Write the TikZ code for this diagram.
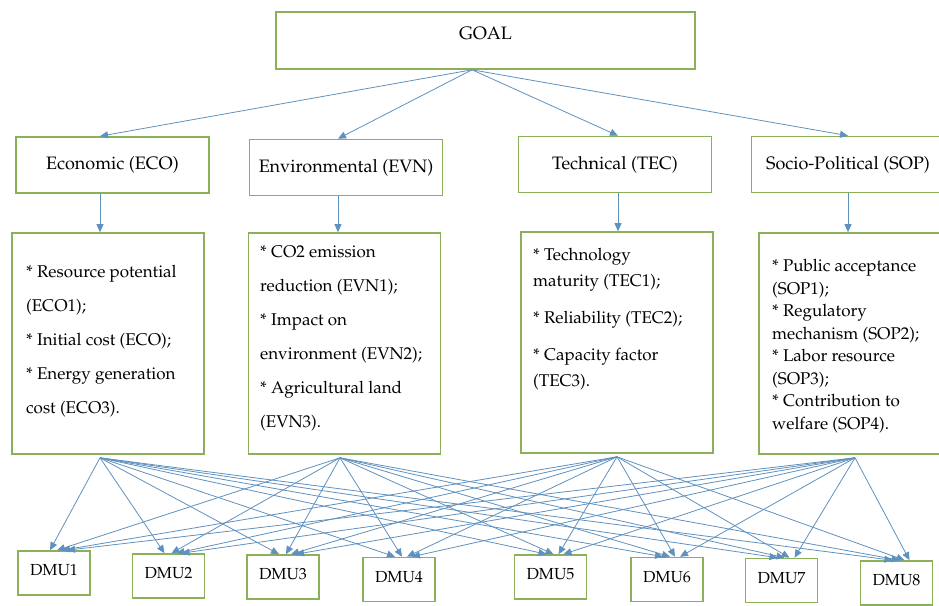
\documentclass[tikz,border=0pt]{standalone}
\usepackage[T1]{fontenc}
\usepackage{mathpazo}
\usepackage{tikz}
\usetikzlibrary{arrows.meta}

\definecolor{boxgreen}{RGB}{140,176,90}
\definecolor{arrowblue}{RGB}{95,145,190}

\tikzset{
  box/.style={draw=boxgreen, line width=1.6pt, fill=white, inner sep=0pt,
    font=\fontsize{18}{21}\selectfont},
  critbox/.style={box, minimum width=193pt, minimum height=56pt},
  subbox/.style={box, minimum width=192pt, minimum height=221pt},
  dmubox/.style={box, minimum width=72pt, minimum height=44pt, text depth=6pt,
    font=\fontsize{16}{19}\selectfont},
  subtext/.style={anchor=north west, align=left, inner sep=0pt},
  link/.style={draw=arrowblue, line width=0.8pt, -{Triangle[length=8pt,width=7pt]}}
}

\begin{document}
\begin{tikzpicture}[x=1pt, y=-1pt]
\useasboundingbox (0,0) rectangle (939,605);

% goal
\node[box, minimum width=419pt, minimum height=57pt, text depth=14pt] (goal) at (485.5,40.5) {GOAL};

% criteria
\node[critbox] (eco) at (112.5,165) {Economic (ECO)};
\node[critbox] (evn) at (346,167.5) {Environmental (EVN)};
\node[critbox] (tec) at (615,164.5) {Technical (TEC)};
\node[critbox] (sop) at (848,164.5) {Socio-Political (SOP)};

% sub-criteria boxes
\node[subbox] (ecosub) at (108,343.5) {};
\node[subbox] (evnsub) at (344.5,343.5) {};
\node[subbox] (tecsub) at (617,342.5) {};
\node[subbox] (sopsub) at (855,343.5) {};

\node[subtext, font=\fontsize{17}{34}\selectfont] (ecotext) at (26,265) {* Resource potential\\ (ECO1);\\ * Initial cost (ECO);\\ * Energy generation\\ cost (ECO3).};
\node[subtext, font=\fontsize{17}{34}\selectfont] (evntext) at (260,246) {* CO2 emission\\ reduction (EVN1);\\ * Impact on\\ environment (EVN2);\\ * Agricultural land\\ (EVN3).};
\node[subtext, font=\fontsize{17}{26}\selectfont] (tectext) at (533,248) {* Technology\\ maturity (TEC1);\\[11pt] * Reliability (TEC2);\\[11pt] * Capacity factor\\ (TEC3).};
\node[subtext, font=\fontsize{17}{22.5}\selectfont] (soptext) at (772,259) {* Public acceptance\\ (SOP1);\\ * Regulatory\\ mechanism (SOP2);\\ * Labor resource\\ (SOP3);\\ * Contribution to\\ welfare (SOP4).};

% alternatives
\node[dmubox] (dmu1) at (54,573) {DMU1};
\node[dmubox] (dmu2) at (168.5,576) {DMU2};
\node[dmubox] (dmu3) at (283,577) {DMU3};
\node[dmubox] (dmu4) at (399,579.5) {DMU4};
\node[dmubox] (dmu5) at (550.5,577) {DMU5};
\node[dmubox] (dmu6) at (667,579.5) {DMU6};
\node[dmubox] (dmu7) at (781.5,580.5) {DMU7};
\node[dmubox] (dmu8) at (896.5,583) {DMU8};

% goal to criteria
\draw[link] ([xshift=-13.5pt]goal.south) -- ([xshift=-12.5pt]eco.north);
\draw[link] ([xshift=-13.5pt]goal.south) -- ([xshift=-8pt]evn.north);
\draw[link] ([xshift=-13.5pt]goal.south) -- ([xshift=3pt]tec.north);
\draw[link] ([xshift=-13.5pt]goal.south) -- (sop.north);

% criteria to sub-criteria
\draw[link] ([xshift=-12.5pt]eco.south) -- ([xshift=-12.5pt]eco.south |- ecosub.north);
\draw[link] ([xshift=-8pt]evn.south) -- ([xshift=-8pt]evn.south |- evnsub.north);
\draw[link] ([xshift=3pt]tec.south) -- ([xshift=3pt]tec.south |- tecsub.north);
\draw[link] (sop.south) -- (sop.south |- sopsub.north);

% sub-criteria to every DMU
\foreach \s/\sx/\off in {ecosub/-8/-4, evnsub/-4.5/3, tecsub/0/8, sopsub/0/13}
  \foreach \d in {1,...,8}
    \draw[link] ([xshift=\sx pt, yshift=-3pt]\s.south) -- ([xshift=\off pt]dmu\d.north);

\end{tikzpicture}
\end{document}
